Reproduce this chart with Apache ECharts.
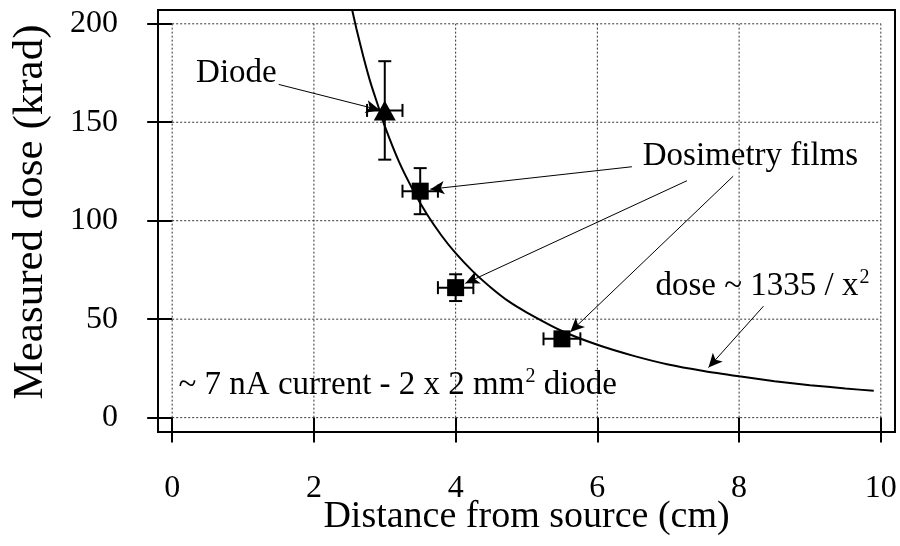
<!DOCTYPE html>
<html>
<head>
<meta charset="utf-8">
<script src="https://cdn.jsdelivr.net/npm/echarts@6/dist/echarts.min.js"></script>
<style>html,body{margin:0;padding:0;background:#fff}#c{width:900px;height:546px}</style>
</head>
<body>
<div id="c"></div>
<script>
const FONT = 'Liberation Serif';
const xTicks = [0, 2, 4, 6, 8, 10];
const yTicks = [0, 50, 100, 150, 200];

// Diode point: x, y, x error, y error
const diodeX = [3.0];
const diodeY = [156];
const diodeXErr = [0.25];
const diodeYErr = [25];

// Dosimetry film points
const filmX = [3.5, 4.0, 5.5];
const filmY = [115, 66, 40];
const filmXErr = [0.25, 0.25, 0.26];
const filmYErr = [11.7, 6.8, 3];

// fit curve dose ~ 1335 / x^2
const fitX = [2.54, 2.6, 2.7, 2.8, 2.9, 3.0, 3.2, 3.4, 3.6, 3.8, 4.0, 4.25, 4.5, 4.75, 5.0, 5.5, 6.0, 6.5, 7.0, 7.5, 8.0, 8.5, 9.0, 9.5, 9.9];
const fitY = [207, 197.5, 183, 170, 159, 148, 130, 115.5, 103, 92.5, 83.5, 74, 66, 59, 53.5, 44, 37, 31.5, 27, 23.7, 21, 18.5, 16.5, 14.8, 13.6];

// annotation texts and their anchors (data units)
const noteTexts = ['Diode', 'Dosimetry films', 'dose', 'note'];
const noteX = [0.907, 8.16, 8.33, 0.089];
const noteY = [175, 132.5, 66.7, 16.4];

// arrows: start and tip (data units)
const arrowFromX = [1.503, 6.488, 7.264, 7.917, 8.344];
const arrowFromY = [169.2, 127.4, 120.3, 122.6, 56.6];
const arrowToX = [2.93, 3.643, 4.137, 5.618, 7.568];
const arrowToY = [156.2, 116.0, 68.2, 43.5, 25.4];

const chart = echarts.init(document.getElementById('c'), null, {renderer: 'canvas'});

function errRender(params, api) {
  const x = api.value(0), y = api.value(1), ex = api.value(2), ey = api.value(3);
  const l = api.coord([x - ex, y]), r = api.coord([x + ex, y]);
  const t = api.coord([x, y + ey]), b = api.coord([x, y - ey]);
  const cap = 6.5;
  const st = {stroke: '#000', lineWidth: 2};
  const L = (x1, y1, x2, y2) => ({type: 'line', shape: {x1, y1, x2, y2}, style: st});
  return {type: 'group', children: [
    L(l[0], l[1], r[0], r[1]),
    L(t[0], t[1], b[0], b[1]),
    L(l[0], l[1] - cap, l[0], l[1] + cap),
    L(r[0], r[1] - cap, r[0], r[1] + cap),
    L(t[0] - cap, t[1], t[0] + cap, t[1]),
    L(b[0] - cap, b[1], b[0] + cap, b[1])
  ]};
}

const gridStyle = {stroke: '#333', lineWidth: 1, lineDash: [2, 2]};

const noteLabel = {
  'Diode': {formatter: 'Diode', position: 'inside'},
  'Dosimetry films': {formatter: 'Dosimetry films', position: 'inside'},
  'dose': {formatter: '{a|dose ~ 1335 / x}{s|2}', position: 'inside'},
  'note': {formatter: '{a|~ 7 nA current - 2 x 2 mm}{s|2}{a| diode}', position: 'right', distance: 0}
};

const option = {
  animation: false,
  grid: {left: 158, right: 5, top: 10, bottom: 114, show: true, borderColor: '#000', borderWidth: 2,
         backgroundColor: 'transparent', containLabel: false, outerBoundsMode: 'none'},
  xAxis: {
    type: 'value', min: -0.2, max: 10.2,
    name: 'Distance from source (cm)', nameLocation: 'middle', nameGap: 66, nameMoveOverlap: false,
    nameTextStyle: {fontFamily: FONT, fontSize: 38, color: '#000'},
    axisLine: {show: false},
    axisTick: {show: true, customValues: xTicks, length: 25, inside: false, lineStyle: {color: '#000', width: 2}},
    axisLabel: {customValues: xTicks, fontFamily: FONT, fontSize: 32, color: '#000', margin: 41},
    splitLine: {show: false}
  },
  yAxis: {
    type: 'value', min: -7.3, max: 207,
    name: 'Measured dose (krad)', nameLocation: 'middle', nameGap: 106, nameMoveOverlap: false,
    nameTextStyle: {fontFamily: FONT, fontSize: 43, color: '#000', padding: [0, 0, 0, 18]},
    axisLine: {show: false},
    axisTick: {show: true, customValues: yTicks, length: 25, inside: false, lineStyle: {color: '#000', width: 2}},
    axisLabel: {customValues: yTicks, fontFamily: FONT, fontSize: 32, color: '#000', margin: 40},
    splitLine: {show: false}
  },
  series: [
    {
      type: 'custom', z: 1, silent: true,
      data: xTicks.map(v => [v, 0]),
      renderItem: (p, api) => {
        const v = api.value(0);
        const a = api.coord([v, yTicks[0]]), b = api.coord([v, yTicks[yTicks.length - 1]]);
        return {type: 'line', shape: {x1: a[0], y1: a[1], x2: b[0], y2: b[1]}, style: gridStyle};
      }
    },
    {
      type: 'custom', z: 1, silent: true,
      data: yTicks.map(v => [0, v]),
      renderItem: (p, api) => {
        const v = api.value(1);
        const a = api.coord([xTicks[0], v]), b = api.coord([xTicks[xTicks.length - 1], v]);
        return {type: 'line', shape: {x1: a[0], y1: a[1], x2: b[0], y2: b[1]}, style: gridStyle};
      }
    },
    {
      type: 'line', z: 3, data: fitX.map((x, i) => [x, fitY[i]]),
      showSymbol: false, symbol: 'none', smooth: 0.2,
      lineStyle: {color: '#000', width: 2}
    },
    {
      type: 'custom', z: 4, renderItem: errRender,
      data: diodeX.map((x, i) => [x, diodeY[i], diodeXErr[i], diodeYErr[i]])
    },
    {
      type: 'custom', z: 4, renderItem: errRender,
      data: filmX.map((x, i) => [x, filmY[i], filmXErr[i], filmYErr[i]])
    },
    {
      type: 'scatter', z: 5, symbol: 'triangle', symbolSize: [22, 20],
      itemStyle: {color: '#000', opacity: 1},
      data: diodeX.map((x, i) => [x, diodeY[i]])
    },
    {
      type: 'scatter', z: 5, symbol: 'rect', symbolSize: 17,
      itemStyle: {color: '#000', opacity: 1},
      data: filmX.map((x, i) => [x, filmY[i]])
    },
    {
      type: 'scatter', z: 6, symbolSize: 0, silent: true,
      itemStyle: {color: '#000', opacity: 1},
      label: {
        show: true, fontFamily: FONT, fontSize: 33, color: '#000',
        rich: {
          a: {fontFamily: FONT, fontSize: 33, color: '#000', lineHeight: 38},
          s: {fontFamily: FONT, fontSize: 20, color: '#000', lineHeight: 38, verticalAlign: 'top', padding: [0, 0, 0, 1]}
        }
      },
      data: noteTexts.map((t, i) => ({value: [noteX[i], noteY[i]], label: noteLabel[t]})),
      markLine: {
        silent: true, animation: false,
        symbol: ['none', 'arrow'], symbolSize: [10, 14],
        label: {show: false},
        lineStyle: {color: '#000', width: 1, type: 'solid', opacity: 1},
        emphasis: {disabled: true},
        data: arrowFromX.map((x, i) => [
          {coord: [x, arrowFromY[i]]},
          {coord: [arrowToX[i], arrowToY[i]]}
        ])
      }
    }
  ]
};
chart.setOption(option);
</script>
</body>
</html>
